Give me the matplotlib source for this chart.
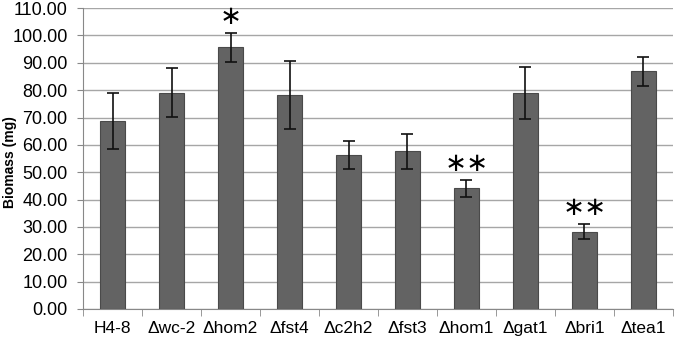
import numpy as np
import matplotlib.pyplot as plt
import matplotlib.ticker as ticker

strains = ['H4-8', '\u0394wc-2', '\u0394hom2', '\u0394fst4', '\u0394c2h2',
           '\u0394fst3', '\u0394hom1', '\u0394gat1', '\u0394bri1', '\u0394tea1']
biomass = [68.7, 79.1, 95.7, 78.2, 56.3, 57.6, 44.1, 79.0, 28.3, 86.9]
err = [10.4, 9.0, 5.3, 12.4, 5.0, 6.4, 3.2, 9.4, 2.7, 5.4]
stars = ['', '', '*', '', '', '', '**', '', '**', '']

plt.rcParams['font.family'] = ['Liberation Sans', 'DejaVu Sans']

fig = plt.figure(figsize=(6.75, 3.38), dpi=100)
ax = fig.add_axes([0.123, 0.086, 0.874, 0.890])

x = np.arange(len(strains))
ax.bar(x, biomass, width=0.41, color='#636363', edgecolor='#4a4a4a',
       linewidth=0.8, zorder=3)
ax.errorbar(x, biomass, yerr=err, fmt='none', ecolor='#111111',
            elinewidth=1.2, capsize=4, capthick=1.2, zorder=4)

for xi, top, s in zip(x, np.array(biomass) + np.array(err), stars):
    if s:
        ax.text(xi, top + 1.0, s.replace('*', '\u2217'), ha='center', va='bottom',
                fontsize=19, color='black', family='DejaVu Sans')

ax.set_xlim(-0.5, len(strains) - 0.5)
ax.set_ylim(0, 110)
ax.yaxis.set_major_locator(ticker.MultipleLocator(10))
ax.yaxis.set_major_formatter(ticker.FormatStrFormatter('%.2f'))
ax.grid(axis='y', color='#a6a6a6', linewidth=1.0, zorder=0)

ax.set_xticks(x)
ax.set_xticklabels(strains)
ax.xaxis.set_minor_locator(ticker.FixedLocator(np.arange(-0.5, len(strains), 1)))
ax.tick_params(axis='x', which='major', length=0, pad=9, labelsize=12.5)
ax.tick_params(axis='x', which='minor', length=5, color='#888888', direction='out')
ax.tick_params(axis='y', length=4, color='#888888', labelsize=13, pad=7)

for side in ['top', 'right']:
    ax.spines[side].set_visible(False)
ax.spines['left'].set_color('#888888')
ax.spines['bottom'].set_color('#888888')

fig.text(10 / 675, 0.52, 'Biomass (mg)', rotation=90, ha='center', va='center',
         fontweight='bold', fontsize=10)

fig.savefig('out.png', dpi=100)
